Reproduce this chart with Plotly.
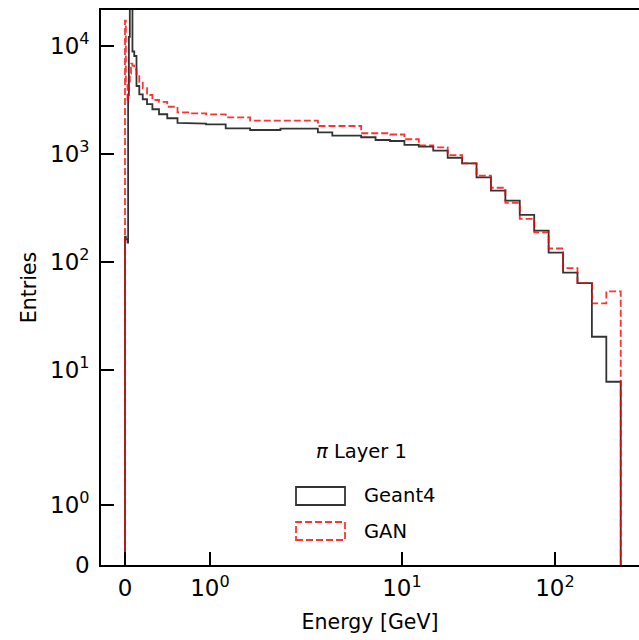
import numpy as np
import plotly.graph_objects as go

# ---- data ----
# histogram bin edges [GeV]: an underflow bin from 0, then log-spaced bins
bin_edges = [0.0] + list(np.logspace(-2, 2.43, 48))

geant4_counts = [170,
                 160, 160, 160, 160, 160, 150, 3500, 12000,
                 30000, 30000, 8800, 8000, 4220, 3530, 3180, 2870,
                 2570, 2310, 2120, 1920, 1890, 1863, 1711, 1651,
                 1697, 1697, 1571, 1462, 1462, 1414, 1334, 1306,
                 1200, 1156, 1062, 914, 811, 602, 453, 366,
                 270, 193, 121, 79, 63, 20.1, 7.7]

gan_counts = [17000,
              4500, 4500, 4500, 4500, 4500, 3000, 3500, 4500,
              5500, 6800, 6500, 6000, 5330, 4620, 4020, 3480,
              3130, 3010, 2710, 2400, 2355, 2307, 2165, 2013,
              2013, 2013, 1798, 1798, 1798, 1540, 1540, 1500,
              1355, 1190, 1141, 968, 811, 623, 482, 350,
              248, 186, 132, 87, 63, 41, 53]

x_tick_values = [0, 1, 10, 100]
x_tick_labels = ["0", "10<sup>0</sup>", "10<sup>1</sup>", "10<sup>2</sup>"]
y_tick_values = [0, 1, 10, 100, 1000, 10000]
y_tick_labels = ["0", "10<sup>0</sup>", "10<sup>1</sup>", "10<sup>2</sup>",
                 "10<sup>3</sup>", "10<sup>4</sup>"]

series_names = ["Geant4", "GAN"]
legend_title = "<i>π</i> Layer 1"


# ---- symmetric-log scale (linthresh 2, linscale 1, base 10) ----
LINTHRESH = 2.0
LINSPAN = 1.0 / (1.0 - 1.0 / 10.0)


def symlog(v):
    v = np.asarray(v, dtype=float)
    a = np.abs(v)
    out = np.where(a <= LINTHRESH, a / LINTHRESH * LINSPAN,
                   LINSPAN + np.log10(np.maximum(a, 1e-12) / LINTHRESH))
    return np.sign(v) * out


def step_path(edges, counts):
    xs, ys = [edges[0]], [0.0]
    for i, c in enumerate(counts):
        xs += [edges[i], edges[i + 1]]
        ys += [c, c]
    xs.append(edges[len(counts)])
    ys.append(0.0)
    return symlog(xs), symlog(ys)


W, H = 639, 640
L, R, T, B = 101, 0, 10, 75
PW, PH = W - L - R, H - T - B
X0_PX, X_DEC = 125, 153.0   # pixel of x=0, pixels per decade
Y_DEC = 108.0


def px(xp):
    return (xp - L) / PW


def py(yp):
    return (H - B - yp) / PH


fig = go.Figure()
gx, gy = step_path(bin_edges, geant4_counts)
fig.add_trace(go.Scatter(x=gx, y=gy, mode="lines", name=series_names[0],
                         line=dict(color="rgba(0,0,0,0.8)", width=1.8),
                         showlegend=False, hoverinfo="skip"))
rx, ry = step_path(bin_edges, gan_counts)
fig.add_trace(go.Scatter(x=rx, y=ry, mode="lines", name=series_names[1],
                         line=dict(color="rgba(255,0,0,0.8)", width=1.8,
                                   dash="7px,3px"),
                         showlegend=False, hoverinfo="skip"))

tick_font = dict(family="DejaVu Sans", size=23, color="black")
title_font = dict(family="DejaVu Sans", size=20.5, color="black")
leg_font = dict(family="DejaVu Sans", size=19.5, color="black")

fig.update_layout(
    width=W, height=H,
    margin=dict(l=L, r=R, t=T, b=B, pad=0),
    paper_bgcolor="white", plot_bgcolor="white",
    font=tick_font,
    xaxis=dict(range=[(L - X0_PX) / X_DEC, (W - X0_PX) / X_DEC],
               tickmode="array", tickvals=list(symlog(x_tick_values)),
               ticktext=x_tick_labels,
               ticks="inside", ticklen=13, tickwidth=1.5, tickcolor="black",
               showline=True, linecolor="black", linewidth=1.6, mirror=True,
               showgrid=False, zeroline=False, ticklabelstandoff=2,
               title=dict(text="Energy [GeV]", standoff=14, font=title_font),
               tickfont=tick_font),
    yaxis=dict(range=[0, PH / Y_DEC],
               tickmode="array", tickvals=list(symlog(y_tick_values)),
               ticktext=y_tick_labels,
               ticks="inside", ticklen=13, tickwidth=1.5, tickcolor="black",
               showline=True, linecolor="black", linewidth=1.6, mirror=False,
               showgrid=False, zeroline=False, ticklabelstandoff=5,
               title=dict(text="Entries", standoff=8, font=title_font),
               tickfont=tick_font),
)

# legend drawn by hand (patch-style handles like a step histogram legend)
fig.add_shape(type="rect", xref="paper", yref="paper",
              x0=px(296), x1=px(345), y0=py(505), y1=py(487),
              line=dict(color="rgba(0,0,0,0.8)", width=1.8))
fig.add_shape(type="rect", xref="paper", yref="paper",
              x0=px(296), x1=px(345), y0=py(540), y1=py(522),
              line=dict(color="rgba(255,0,0,0.8)", width=1.8, dash="7px,3px"))
fig.add_annotation(xref="paper", yref="paper", x=px(362), y=py(496),
                   text=series_names[0], showarrow=False, xanchor="left",
                   yanchor="middle", font=leg_font)
fig.add_annotation(xref="paper", yref="paper", x=px(362), y=py(531),
                   text=series_names[1], showarrow=False, xanchor="left",
                   yanchor="middle", font=leg_font)
fig.add_annotation(xref="paper", yref="paper", x=px(361), y=py(451),
                   text=legend_title, showarrow=False, xanchor="center",
                   yanchor="middle", font=leg_font)

fig.write_html("out.html")
